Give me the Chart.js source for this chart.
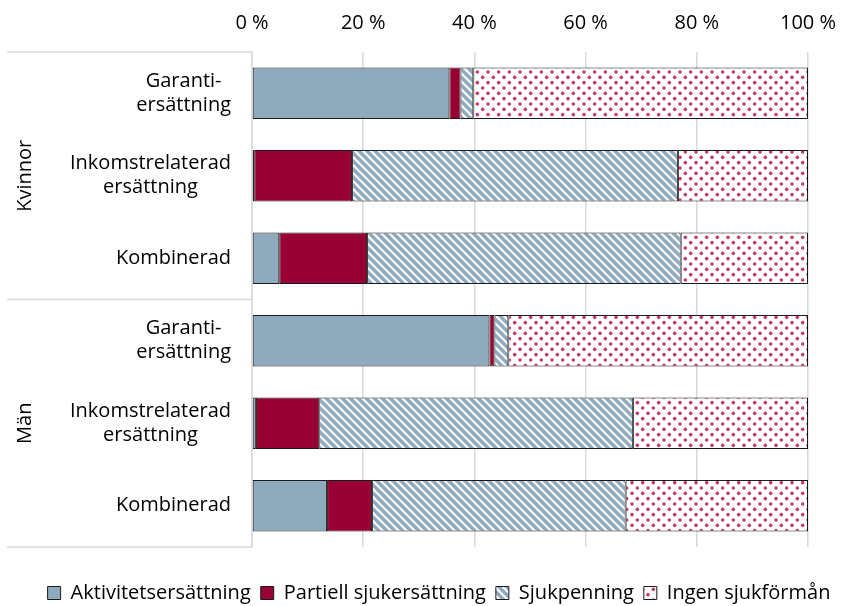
<!DOCTYPE html>
<html lang="sv">
<head>
<meta charset="utf-8">
<script src="https://cdn.jsdelivr.net/npm/chart.js@4.4.1/dist/chart.umd.min.js"></script>
<style>
  html, body { margin: 0; padding: 0; background: #fff; }
  #wrap { width: 848px; height: 606px; }
</style>
</head>
<body>
<div id="wrap"><canvas id="chart" width="848" height="606"></canvas></div>
<script>
// data
const groups = ['Kvinnor', 'Män'];
const categories = [
  ['Garanti-', 'ersättning'],
  ['Inkomstrelaterad', 'ersättning'],
  ['Kombinerad'],
  ['Garanti-', 'ersättning'],
  ['Inkomstrelaterad', 'ersättning'],
  ['Kombinerad']
];
const seriesNames = ['Aktivitetsersättning', 'Partiell sjukersättning', 'Sjukpenning', 'Ingen sjukförmån'];
const aktivitet = [35.5, 0.4, 4.9, 42.7, 0.7, 13.5];
const partiell = [2.0, 17.6, 15.8, 0.9, 11.4, 8.1];
const sjukpenning = [2.3, 58.6, 56.4, 2.5, 56.4, 45.6];
const ingen = [60.2, 23.4, 22.9, 53.9, 31.5, 32.8];
const xMin = 0, xMax = 100, xStep = 20;

const FONT = '"Open Sans", sans-serif';
const BLUE = '#8faabd';
const RED = '#990033';

// diagonal stripes (Sjukpenning)
function stripePattern() {
  const c = document.createElement('canvas');
  c.width = 32; c.height = 32;
  const g = c.getContext('2d');
  g.fillStyle = '#fff';
  g.fillRect(0, 0, 32, 32);
  g.strokeStyle = BLUE;
  g.lineWidth = 3.4;
  const p = 8;
  for (let k = -6; k <= 6; k++) {
    const c0 = k * p;
    g.beginPath();
    g.moveTo(c0 - 4, -4);
    g.lineTo(c0 + 36, 36);
    g.stroke();
  }
  return g.createPattern(c, 'repeat');
}

// red dots (Ingen sjukförmån)
function dotPattern() {
  const c = document.createElement('canvas');
  c.width = 32; c.height = 32;
  const g = c.getContext('2d');
  g.fillStyle = '#fff';
  g.fillRect(0, 0, 32, 32);
  g.fillStyle = '#c63c66';
  const p = 32 / 3;
  for (let r = 0; r < 6; r++) {
    for (let col = 0; col < 3; col++) {
      const x = col * p + (r % 2 ? p / 2 : 0) + p / 4;
      const y = r * p / 2 + p / 4;
      g.beginPath();
      g.arc(x, y, 1.8, 0, Math.PI * 2);
      g.fill();
    }
  }
  return g.createPattern(c, 'repeat');
}

// move the legend a bit lower / right, like the original
const legendShift = {
  id: 'legendShift',
  afterLayout(chart) {
    const lg = chart.legend;
    lg.top += 26; lg.bottom += 26;
    lg.left += 35; lg.right += 35;
  }
};

// category labels, group labels and separators on the left
const sideLabels = {
  id: 'sideLabels',
  afterDraw(chart) {
    const ctx = chart.ctx;
    const y = chart.scales.y;
    ctx.save();
    ctx.strokeStyle = '#d9d9d9';
    ctx.lineWidth = 1.5;
    [y.top, y.getPixelForValue(2.5), y.bottom].forEach(py => {
      ctx.beginPath();
      ctx.moveTo(7, py);
      ctx.lineTo(y.right, py);
      ctx.stroke();
    });

    ctx.font = '20px ' + FONT;
    ctx.fillStyle = '#000';
    ctx.textBaseline = 'middle';
    ctx.textAlign = 'center';
    categories.forEach((lines, i) => {
      const cy = y.getPixelForValue(i);
      const w = Math.max(...lines.map(t => ctx.measureText(t).width));
      const cx = y.right - 21 - w / 2;
      lines.forEach((t, j) => {
        ctx.fillText(t, cx, cy + (j - (lines.length - 1) / 2) * 24);
      });
    });

    groups.forEach((name, k) => {
      const cy = (y.getPixelForValue(k * 3 - 0.5) + y.getPixelForValue(k * 3 + 2.5)) / 2;
      ctx.save();
      ctx.translate(25, cy);
      ctx.rotate(-Math.PI / 2);
      ctx.fillText(name, 0, 0);
      ctx.restore();
    });
    ctx.restore();
  }
};

const barStyle = {
  borderColor: '#1a1a1a',
  borderWidth: 1,
  borderSkipped: false,
  barPercentage: 1,
  categoryPercentage: 0.625
};

new Chart(document.getElementById('chart'), {
  type: 'bar',
  data: {
    labels: categories,
    datasets: [
      { label: seriesNames[0], data: aktivitet, backgroundColor: BLUE, ...barStyle },
      { label: seriesNames[1], data: partiell, backgroundColor: RED, ...barStyle },
      { label: seriesNames[2], data: sjukpenning, backgroundColor: stripePattern(), ...barStyle },
      { label: seriesNames[3], data: ingen, backgroundColor: dotPattern(), ...barStyle }
    ]
  },
  options: {
    indexAxis: 'y',
    responsive: false,
    animation: false,
    layout: { padding: { left: 0, right: 40, top: 0, bottom: 19 } },
    plugins: {
      tooltip: { enabled: false },
      legend: {
        position: 'bottom',
        labels: {
          color: '#000',
          font: { family: FONT, size: 20 },
          boxWidth: 13,
          boxHeight: 13,
          padding: 10
        }
      }
    },
    scales: {
      x: {
        position: 'top',
        stacked: true,
        min: xMin,
        max: xMax,
        afterFit: s => { s.height = 52; s.paddingLeft = 0; s.paddingRight = 0; },
        ticks: {
          stepSize: xStep,
          color: '#000',
          font: { family: FONT, size: 20 },
          padding: 17,
          callback: v => v + ' %'
        },
        grid: { color: '#d9d9d9', lineWidth: 1.5, drawTicks: false },
        border: { display: false }
      },
      y: {
        stacked: true,
        afterFit: s => { s.width = 252; },
        ticks: { display: false },
        grid: { display: false },
        border: { display: true, color: '#d9d9d9', width: 1.5 }
      }
    }
  },
  plugins: [sideLabels, legendShift]
});
</script>
</body>
</html>
